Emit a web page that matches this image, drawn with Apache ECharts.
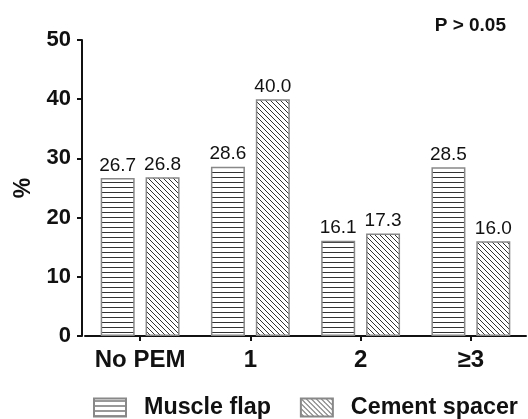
<!DOCTYPE html>
<html><head><meta charset="utf-8">
<script src="https://cdn.jsdelivr.net/npm/echarts@6/dist/echarts.min.js"></script>
<style>html,body{margin:0;padding:0;background:#fff}#c{width:528px;height:419px}</style>
</head><body><div id="c"></div>
<script>
const categories = ['No PEM', '1', '2', '\u22653'];
const muscleFlap = [26.7, 28.6, 16.1, 28.5];
const cementSpacer = [26.8, 40.0, 17.3, 16.0];
const yTicks = [0, 10, 20, 30, 40, 50];
const pText = 'P > 0.05';

function hPattern() {
  const c = document.createElement('canvas'); c.width = 6; c.height = 5;
  const g = c.getContext('2d');
  g.fillStyle = '#fff'; g.fillRect(0, 0, 6, 5);
  g.strokeStyle = '#333'; g.lineWidth = 1;
  g.beginPath(); g.moveTo(0, 2.5); g.lineTo(6, 2.5); g.stroke();
  return c;
}
function dPattern() {
  const c = document.createElement('canvas'); c.width = 5; c.height = 5;
  const g = c.getContext('2d');
  g.fillStyle = '#fff'; g.fillRect(0, 0, 5, 5);
  g.strokeStyle = '#333'; g.lineWidth = 1;
  g.beginPath();
  for (let k = -1; k <= 1; k++) { g.moveTo(-1, -1 + 5 * k); g.lineTo(6, 6 + 5 * k); }
  g.stroke();
  return c;
}
const F = 'Liberation Sans, Arial, sans-serif';
const chart = echarts.init(document.getElementById('c'), null, {renderer: 'canvas'});
const lbl = {show: true, position: 'top', distance: 3, color: '#111', fontFamily: F, fontSize: 19,
  formatter: p => p.value.toFixed(1)};
chart.setOption({
  animation: false,
  title: {text: pText, right: 17, top: 11, textStyle: {fontFamily: F, fontSize: 19, fontWeight: 'bold', color: '#111'}},
  grid: {left: 85, right: 2, top: 40, bottom: 83, containLabel: false},
  legend: {left: 93, top: 396, width: 470, padding: 0, itemWidth: 32, itemHeight: 18, itemGap: 29,
    textStyle: {fontFamily: F, fontSize: 23.3, fontWeight: 'bold', color: '#111', padding: [0, 0, 0, 13]},
    icon: 'rect', data: ['Muscle flap', 'Cement spacer']},
  xAxis: {type: 'category', data: categories,
    axisLine: {lineStyle: {color: '#111', width: 2}},
    axisTick: {show: true, alignWithLabel: true, length: 5, lineStyle: {color: '#111', width: 2}},
    axisLabel: {interval: 0, fontFamily: F, fontSize: 24, fontWeight: 'bold', color: '#111', margin: 12}},
  yAxis: {type: 'value', min: yTicks[0], max: yTicks[yTicks.length - 1], interval: 10, offset: 3,
    name: '%', nameLocation: 'middle', nameGap: 45, nameRotate: 90,
    nameTextStyle: {fontFamily: F, fontSize: 23, fontWeight: 'bold', color: '#111'},
    axisLine: {show: true, lineStyle: {color: '#111', width: 2}},
    axisTick: {show: true, length: 5, lineStyle: {color: '#111', width: 2}},
    splitLine: {show: false},
    axisLabel: {fontFamily: F, fontSize: 22, fontWeight: 'bold', color: '#111', margin: 11}},
  series: [
    {name: 'Muscle flap', type: 'bar', data: muscleFlap, barWidth: 34, barGap: '32%',
      itemStyle: {color: {image: hPattern(), repeat: 'repeat'}, borderColor: '#888', borderWidth: 1.5},
      label: lbl},
    {name: 'Cement spacer', type: 'bar', data: cementSpacer, barWidth: 34,
      itemStyle: {color: {image: dPattern(), repeat: 'repeat'}, borderColor: '#888', borderWidth: 1.5},
      label: lbl}
  ]
});
</script></body></html>
